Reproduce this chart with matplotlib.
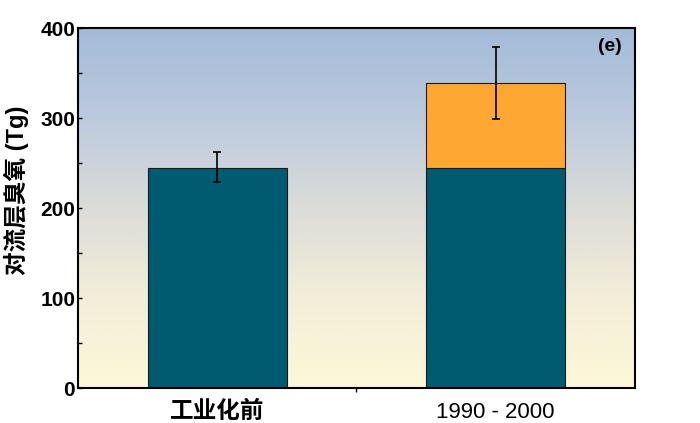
import numpy as np
import matplotlib
matplotlib.use("Agg")
import matplotlib.pyplot as plt
from matplotlib.colors import LinearSegmentedColormap
from matplotlib.ticker import MultipleLocator

plt.rcParams['font.family'] = ['Liberation Sans', 'Noto Sans CJK SC', 'DejaVu Sans']

# data
categories = ["工业化前", "1990 - 2000"]
base_ozone = [245, 245]
added_ozone = [0, 94]
err_low = [16, 40]
err_high = [17, 40]

fig = plt.figure(figsize=(7, 4.23), dpi=100)
ax = fig.add_axes([0.1114, 0.0827, 0.7957, 0.851])

# background gradient (blue at top, cream at bottom)
grad_cmap = LinearSegmentedColormap.from_list(
    "bg", ["#fdf8d8", "#f3eed8", "#dcdcd8", "#bccade", "#a3bbd8"])
grad = np.linspace(0, 1, 256).reshape(-1, 1)
ax.imshow(grad, cmap=grad_cmap, aspect="auto", origin="lower",
          extent=[-0.5, 1.5, 0, 400], zorder=0)

x = np.arange(len(categories))
ax.bar(x, base_ozone, width=0.5, color="#005a70", edgecolor="#1a1a1a",
       linewidth=0.8, zorder=2)
ax.bar(x[1:], added_ozone[1:], bottom=base_ozone[1:], width=0.5,
       color="#ffa733", edgecolor="#1a1a1a", linewidth=0.8, zorder=2)

tops = np.array(base_ozone) + np.array(added_ozone)
ax.errorbar(x, tops, yerr=[err_low, err_high], fmt="none", ecolor="black",
            elinewidth=1.2, capsize=3, capthick=1.2, zorder=3)

ax.set_xlim(-0.5, 1.5)
ax.set_ylim(0, 400)
ax.yaxis.set_major_locator(MultipleLocator(100))
ax.yaxis.set_minor_locator(MultipleLocator(50))
ax.tick_params(axis="y", which="both", direction="in", length=3, width=1,
               labelsize=15, pad=2)
for lab in ax.get_yticklabels():
    lab.set_fontweight("bold")

ax.set_xticks([0.5])
ax.set_xticklabels([""])
ax.tick_params(axis="x", direction="out", length=3, width=1)
ax.text(0, -0.03, categories[0], transform=ax.get_xaxis_transform(),
        ha="center", va="top", fontsize=17, fontweight="bold",
        family=['Noto Sans CJK SC', 'DejaVu Sans'])
ax.text(1, -0.04, categories[1], transform=ax.get_xaxis_transform(),
        ha="center", va="top", fontsize=16)

ax.set_ylabel("对流层臭氧 (Tg)", fontsize=17, fontweight="bold",
              family=['Liberation Sans', 'Noto Sans CJK SC'])
ax.yaxis.set_label_coords(-0.088, 0.55)

ax.text(0.955, 0.95, "(e)", transform=ax.transAxes, ha="center", va="center",
        fontsize=14, fontweight="bold")

for s in ax.spines.values():
    s.set_linewidth(1.5)

fig.savefig("out.png", dpi=100)
